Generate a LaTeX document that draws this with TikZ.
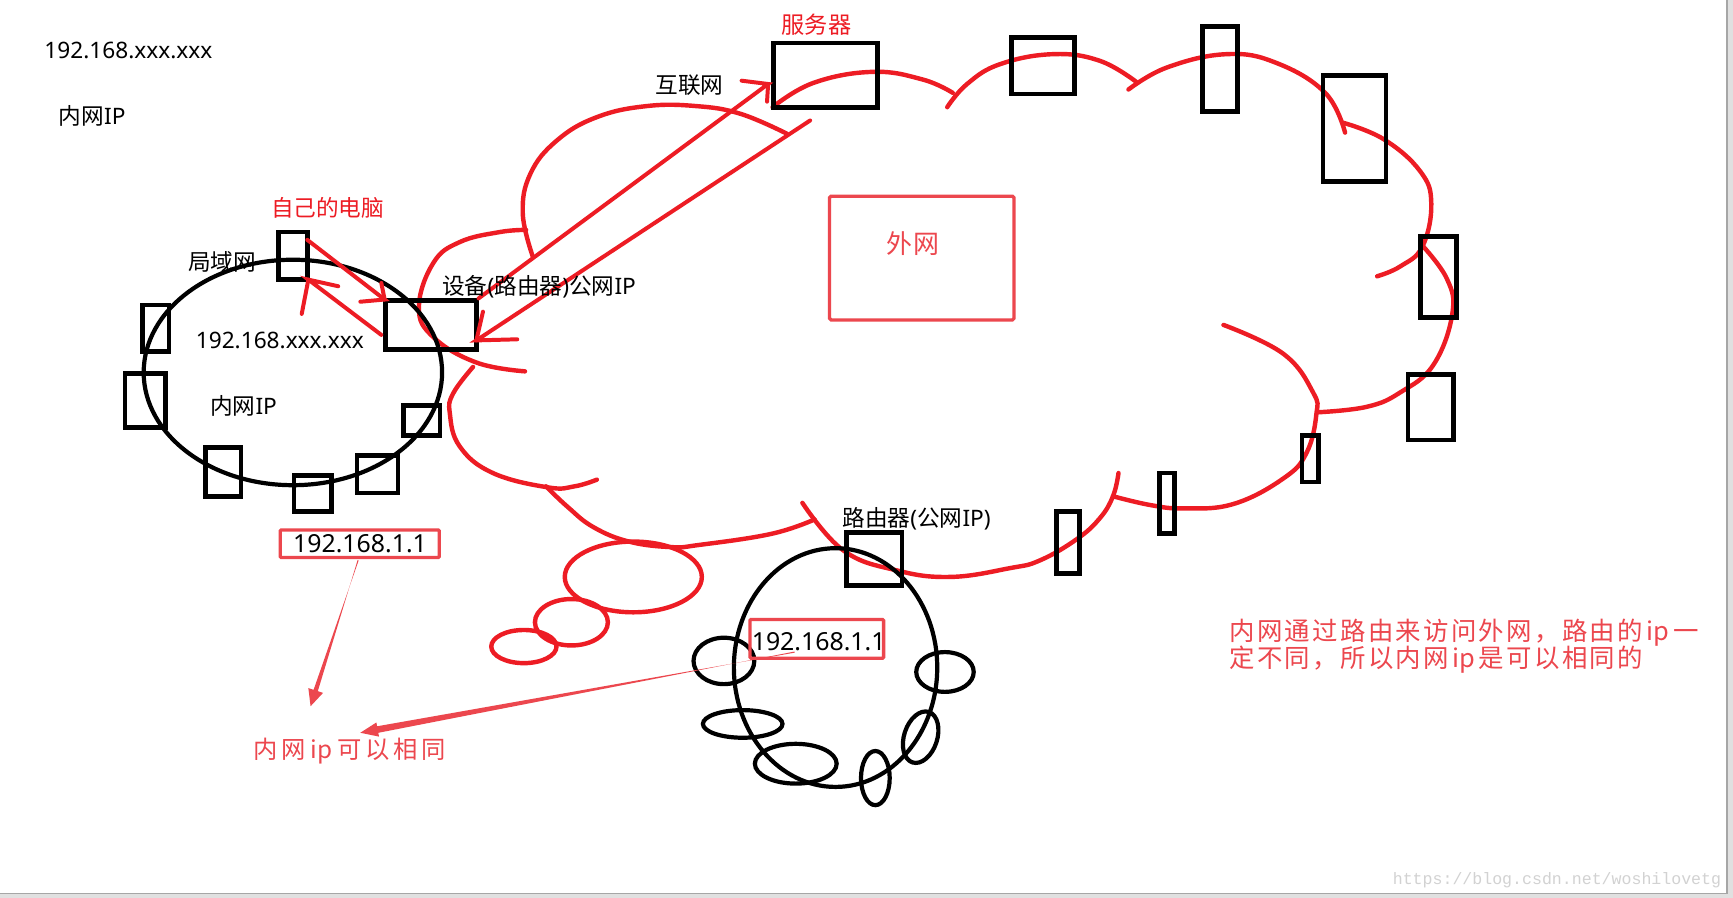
\documentclass[tikz,border=0pt]{standalone}
\usepackage{fontspec}
\setmainfont{Noto Sans}
\newfontfamily\cj{Noto Sans CJK SC}
\newfontfamily\wm{Liberation Mono}
\usetikzlibrary{calc}
\definecolor{cred}{HTML}{ED1C24}
\definecolor{lred}{HTML}{EC474E}
\definecolor{wmgray}{HTML}{D2D2D2}
\newlength\cellw
\def\spcloop#1{\ifx\relax#1\else\makebox[\cellw][c]{#1}\expandafter\spcloop\fi}
\newcommand\taperarrow[6]{%
  \coordinate (tpb) at ($(#2)!#6!(#1)$);
  \fill[lred] ($(#1)!#3!90:(#2)$) -- ($(tpb)!#4!-90:(#2)$) -- ($(tpb)!#5!-90:(#2)$) -- (#2)
    -- ($(tpb)!#5!90:(#2)$) -- ($(tpb)!#4!90:(#2)$) -- ($(#1)!#3!-90:(#2)$) -- cycle;}
\begin{document}
\begin{tikzpicture}[x=1pt,y=-1pt,
  bbox/.style={draw=black, line width=4.3, inner sep=0, outer sep=0},
  lbox/.style={draw=lred, line width=3, inner sep=0, outer sep=0, rounded corners=1},
  cloudline/.style={draw=cred, line width=4, line cap=round, line join=round},
  bell/.style={draw=black, line width=3.8},
  rell/.style={draw=cred, line width=4},
  rline/.style={draw=cred, line width=3.6, line cap=round},
  lab/.style={inner sep=0, anchor=west, font=\fontsize{20.5}{24}\selectfont},
  rtext/.style={inner sep=0, anchor=west, text=lred, font=\cj\fontsize{23}{25}\selectfont}]
\useasboundingbox (0,0) rectangle (1568,812.5);
% page background and frame
\fill[black!12] (0,0) rectangle (1568,812.5);
\fill[white] (0,0) rectangle (1562,808);
\draw[black!35, line width=1.5] (1562.5,0) -- (1562.5,808.5) -- (0,808.5);

% ===== red cloud (outer network) =====
\draw[cloudline] plot[smooth, tension=0.7] coordinates {(482,232) (473,193) (480,157) (504,127) (540,106) (585,96) (630,96) (670,103) (712,121)};
\draw[cloudline] plot[smooth, tension=0.7] coordinates {(699,97) (736,75) (790,65) (835,72) (862,84)};
\draw[cloudline] plot[smooth, tension=0.7] coordinates {(857,97) (875,76) (905,58) (953,49) (995,55) (1028,74)};
\draw[cloudline] plot[smooth, tension=0.7] coordinates {(1021,81) (1056,61) (1110,49) (1155,57) (1199,84) (1217,120)};
\draw[cloudline] plot[smooth, tension=0.7] coordinates {(1215,111) (1252,126) (1285,155) (1295,184) (1287,223) (1267,241) (1246,250)};
\draw[cloudline] plot[smooth, tension=0.7] coordinates {(1285,220) (1309,252) (1314,284) (1297,330) (1267,355) (1237,368) (1193,373)};
\draw[cloudline] plot[smooth, tension=0.7] coordinates {(1107,294) (1161,320) (1188,355) (1191,375) (1182,410) (1161,433) (1116,456) (1071,460) (1041,457) (1007,449)};
\draw[cloudline] plot[smooth, tension=0.7] coordinates {(1012,428) (1007,449) (995,469) (974,488) (941,507) (914,514) (860,522) (811,516) (763,498) (726,455)};
\draw[cloudline] plot[smooth, tension=0.7] coordinates {(737,470) (698,483) (633,493) (607,495) (569,490) (537,477) (514,459) (494,440)};
\draw[cloudline] plot[smooth, tension=0.7] coordinates {(428,332) (410,356) (407,374) (416,404) (446,428) (496,441) (520,440) (540,434)};
\draw[cloudline] plot[smooth, tension=0.7] coordinates {(475,336) (431,328) (392,305) (379,278) (392,238) (416,219) (452,210) (476,208)};

% thought bubble
\draw[rell] (573,522) ellipse [x radius=62, y radius=32];
\draw[rell] (517,563) ellipse [x radius=33, y radius=21];
\draw[rell] (474,585) ellipse [x radius=29.5, y radius=15];

% ===== black boxes on the cloud =====
\node[bbox, minimum width=94, minimum height=58] (server) at (747,68) {};
\node[bbox, minimum width=57, minimum height=51] (t2) at (943.5,59.5) {};
\node[bbox, minimum width=32, minimum height=77] (t3) at (1104,62.5) {};
\node[bbox, minimum width=57, minimum height=96] (t4) at (1225.5,116) {};
\node[bbox, minimum width=33, minimum height=73] (t5) at (1301.5,250.5) {};
\node[bbox, minimum width=41, minimum height=59] (t6) at (1294.5,368.5) {};
\node[bbox, minimum width=15, minimum height=42] (t7) at (1185.5,415) {};
\node[bbox, minimum width=14, minimum height=55] (t8) at (1056,455.5) {};
\node[bbox, minimum width=21, minimum height=56] (t9) at (966.5,491) {};
\node[bbox, minimum width=50, minimum height=48] (router2) at (791,506) {};

% ===== LAN (left) =====
\draw[bell] (265,337) ellipse [x radius=135, y radius=102];
\node[bbox, minimum width=82, minimum height=44] (lanrouter) at (390,294) {};
\node[bbox, minimum width=26, minimum height=43] (pc) at (265,231.5) {};
\node[bbox, minimum width=24, minimum height=42] (lb1) at (141,297) {};
\node[bbox, minimum width=37, minimum height=49] (lb2) at (131.5,362.5) {};
\node[bbox, minimum width=32, minimum height=44] (lb3) at (202,427) {};
\node[bbox, minimum width=34, minimum height=33] (lb4) at (283,446.5) {};
\node[bbox, minimum width=37, minimum height=34] (lb5) at (341.5,429) {};
\node[bbox, minimum width=33, minimum height=27] (lb6) at (381.5,380.5) {};

% ===== second LAN (bottom) =====
\draw[bell] (756,604) ellipse [x radius=92, y radius=108];
\draw[bell] (655,598) ellipse [x radius=27.5, y radius=21];
\draw[bell] (855,608) ellipse [x radius=26, y radius=18];
\draw[bell] (672,655) ellipse [x radius=36, y radius=12.5];
\draw[bell] (720,691) ellipse [x radius=37, y radius=18];
\draw[bell, rotate around={-18:(833,667)}] (833,667) ellipse [x radius=15, y radius=24];
\draw[bell] (792,704) ellipse [x radius=13, y radius=24.5];

% ===== red arrows =====
\coordinate (pcA) at (278,217);
\coordinate (rtA) at (348,271);
\draw[rline] (pcA) -- (rtA) -- ++(-22,2);
\draw[rline] (rtA) -- ++(-3,-15);
\coordinate (rtB) at (345,303);
\coordinate (pcB) at (279,253);
\draw[rline] (rtB) -- (pcB) -- ++(27,6);
\draw[rline] (pcB) -- ++(-6,31);
\coordinate (upS) at (433,270);
\coordinate (upE) at (695,76);
\draw[rline] (upS) -- (upE) -- ++(-24,-3);
\draw[rline] (upE) -- ++(-1,16);
\coordinate (dnS) at (733,109);
\coordinate (dnE) at (431,308);
\draw[rline] (dnS) -- (dnE) -- ++(37,-1);
\draw[rline] (dnE) -- ++(6,-26);

% ===== labels =====
\node[lab] (topip) at (40,46) {192.168.xxx.xxx};
\node[lab] (topnw) at (53,105) {{\cj 内网}IP};
\node[lab] (hulian) at (593,77) {\cj 互联网};
\node[lab, text=cred, font=\cj\fontsize{21}{24}\selectfont] (fuwu) at (707,22) {服务器};
\node[lab, text=cred] (pclab) at (245,188) {\cj 自己的电脑};
\node[lab] (juyu) at (170,237) {\cj 局域网};
\node[lab] (shebei) at (400,259) {{\cj 设备}({\cj 路由器}){\cj 公网}IP};
\node[lab] (lanip) at (177,308) {192.168.xxx.xxx};
\node[lab] (lannw) at (190,367) {{\cj 内网}IP};
\node[lab] (luyou) at (762,469) {{\cj 路由器}({\cj 公网}IP)};

% 外网 box
\node[lbox, minimum width=167, minimum height=112, rounded corners=1.5] (waiwang) at (834,233.5) {};
\node[rtext, anchor=center, font=\cj\fontsize{23.5}{25}\selectfont] (wwtext) at (826,220) {\setlength\cellw{25pt}\spcloop 外网\relax};

% IP boxes
\node[lbox, minimum width=144, minimum height=25] (ipbox1) at (325.5,492) {};
\node[lab, font=\fontsize{22.5}{26}\selectfont] (iptext1) at (265,492) {192.168.1.1};
\node[lbox, minimum width=121, minimum height=35] (ipbox2) at (739,578) {};
\node[lab, font=\fontsize{22.5}{26}\selectfont] (iptext2) at (680,581) {192.168.1.1};

% same-ip label and tapered arrows
\node[rtext, font=\cj\fontsize{22}{25}\selectfont] (sameip) at (228,680) {\setlength\cellw{25.2pt}\spcloop 内网{ip}可以相同\relax};
\coordinate (tA0) at (324,507);
\coordinate (tA1) at (281,639);
\taperarrow{tA0}{tA1}{0.5pt}{2pt}{7pt}{15pt}
\coordinate (tB0) at (719,590);
\coordinate (tB1) at (326,663);
\taperarrow{tB0}{tB1}{0.5pt}{3pt}{6.5pt}{16pt}

% explanation
\node[rtext] (para1) at (1111,572) {\setlength\cellw{25.1pt}\spcloop 内网通过路由来访问外网，路由的{ip}一\relax};
\node[rtext] (para2) at (1111,597) {\setlength\cellw{25.1pt}\spcloop 定不同，所以内网{ip}是可以相同的\relax};

% watermark
\node[inner sep=0, anchor=west, text=wmgray, font=\wm\fontsize{15}{18}\selectfont] (wmark) at (1260,796) {https://blog.csdn.net/woshilovetg};
\end{tikzpicture}
\end{document}
